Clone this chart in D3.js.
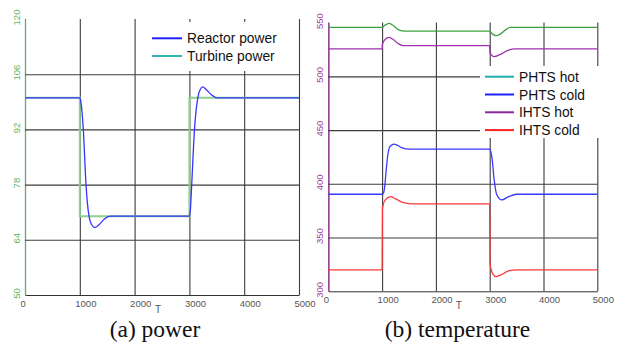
<!DOCTYPE html>
<html>
<head>
<meta charset="utf-8">
<script src="https://cdn.jsdelivr.net/npm/d3@7"></script>
<style>
  body { margin: 0; background: #fff; }
  svg { display: block; }
  .tick text { font-family: "Liberation Sans", Arial, sans-serif; font-size: 9.5px; }
  .legend text { font-family: "Liberation Sans", Arial, sans-serif; font-size: 13.8px; fill: #111; }
  .caption { font-family: "Liberation Serif", "Times New Roman", serif; font-size: 23.5px; fill: #111; }
</style>
</head>
<body>
<svg id="chart" width="618" height="342"></svg>
<script>
// ---- data ----
const xTicks = [0, 1000, 2000, 3000, 4000, 5000];
const powerTicks = [50, 64, 78, 92, 106, 120];
const tempTicks = [300, 350, 400, 450, 500, 550];

const reactorT = [0, 1000, 1020, 1064, 1113, 1168, 1200, 1277, 1350, 1450, 1550, 3000, 3020, 3042, 3093, 3153, 3200, 3242, 3300, 3400, 3500, 5000];
const reactorPower = [100, 100, 99, 92, 78, 70, 68.3, 67.1, 67.8, 69.3, 70, 70, 72, 78, 92, 100, 102.2, 102.8, 102.2, 100.8, 100, 100];
const turbineT = [0, 1000, 1000, 3000, 3000, 5000];
const turbinePower = [100, 100, 70, 70, 100, 100];

const phtsHotT = [0, 1000, 1050, 1128, 1200, 1300, 1425, 3000, 3050, 3117, 3200, 3300, 3377, 5000];
const phtsHot = [545.5, 545.5, 547.5, 549.3, 547.5, 543.5, 542, 542, 539.5, 537.8, 539.5, 543.5, 545.5, 545.5];
const phtsColdT = [0, 1000, 1030, 1054, 1080, 1110, 1150, 1227, 1350, 1500, 3000, 3040, 3080, 3130, 3223, 3350, 3500, 5000];
const phtsCold = [390.3, 390.3, 392, 400, 415, 428, 435, 437, 434, 432.2, 432.2, 425, 405, 390, 385, 388, 390.3, 390.3];
const ihtsHotT = [0, 1000, 1005, 1060, 1128, 1200, 1300, 1394, 3000, 3005, 3080, 3200, 3350, 3470, 5000];
const ihtsHot = [525.5, 525.5, 529.8, 534.5, 536.3, 534.5, 530.5, 528.5, 528.5, 522.4, 518.3, 520.5, 524.3, 525.5, 525.5];
const ihtsColdT = [0, 1000, 1005, 1060, 1160, 1250, 1400, 1580, 3000, 3005, 3060, 3117, 3200, 3350, 3500, 5000];
const ihtsCold = [320, 320, 377, 385, 388, 386, 382.5, 381.3, 381.3, 326, 316, 313.6, 315, 319, 320, 320];

const powerLegend = ['Reactor power', 'Turbine power'];
const powerLegendColors = ['#2020ff', '#30b8b0'];
const tempLegend = ['PHTS hot', 'PHTS cold', 'IHTS hot', 'IHTS cold'];
const tempLegendColors = ['#20b0b0', '#2020ff', '#8a2aa0', '#ff2020'];

const svg = d3.select('#chart');
const zip = (t, v) => t.map((d, i) => [d, v[i]]);

function panel(opt) {
  const x = d3.scaleLinear().domain([0, 5000]).range([opt.left, opt.right]);
  const y = d3.scaleLinear().domain(opt.yDomain).range([opt.bottom, opt.top]);
  const g = svg.append('g');

  // vertical grid + x labels
  const xa = g.append('g')
    .attr('transform', 'translate(0,' + opt.bottom + ')')
    .call(d3.axisBottom(x).tickValues(xTicks).tickSize(-(opt.bottom - opt.top)).tickSizeOuter(0).tickFormat(d3.format('d')));
  xa.select('.domain').attr('stroke', '#333');
  xa.selectAll('.tick line').attr('stroke', '#3c3c3c').attr('stroke-width', 1.1);
  xa.selectAll('.tick text')
    .attr('fill', '#555').attr('text-anchor', 'start')
    .attr('x', -5).attr('y', 5).attr('dy', '0.71em');

  // horizontal grid + rotated y labels
  const ya = g.append('g')
    .attr('transform', 'translate(' + opt.left + ',0)')
    .call(d3.axisLeft(y).tickValues(opt.yTicks).tickSize(-(opt.right - opt.left)).tickSizeOuter(0));
  ya.select('.domain').attr('stroke', opt.axisColor).attr('stroke-width', 1.2);
  ya.selectAll('.tick line').attr('stroke', '#3c3c3c').attr('stroke-width', 1.1)
    .filter(d => d === opt.yDomain[0] || d === opt.yDomain[1]).remove();
  ya.selectAll('.tick text')
    .attr('fill', opt.axisColor).attr('text-anchor', 'middle')
    .attr('x', null).attr('dy', null).attr('y', null)
    .attr('transform', 'translate(' + opt.labelShift + ',-2) rotate(-90)');

  g.append('text')
    .attr('x', (opt.left + opt.right) / 2 - 4).attr('y', opt.bottom + 18)
    .attr('text-anchor', 'middle').attr('fill', '#555')
    .style('font-family', '"Liberation Sans", Arial, sans-serif').style('font-size', '10px')
    .text('T');

  g.append('text').attr('class', 'caption')
    .attr('x', opt.captionX).attr('y', 337).attr('text-anchor', 'middle')
    .text(opt.caption);

  return { g, x, y };
}

// ---- (a) power ----
const a = panel({ left: 25, right: 299, top: 19, bottom: 295, yDomain: [50, 120], yTicks: powerTicks,
  axisColor: '#5cb85c', labelShift: -5.5, caption: '(a) power', captionX: 155 });
const lineA = d3.line().x(d => a.x(d[0])).y(d => a.y(d[1]));

a.g.append('path').datum(zip(turbineT, turbinePower))
  .attr('d', lineA).attr('fill', 'none').attr('stroke', '#8fd08f').attr('stroke-width', 2);
a.g.append('path').datum(zip(reactorT, reactorPower))
  .attr('d', lineA.curve(d3.curveMonotoneX)).attr('fill', 'none').attr('stroke', '#3535ff').attr('stroke-width', 1.3);

const legA = a.g.append('g').attr('class', 'legend');
legA.append('rect').attr('x', 145).attr('y', 22).attr('width', 151).attr('height', 49).attr('fill', '#fff');
powerLegend.forEach((name, i) => {
  const yy = 38.3 + i * 17.7;
  legA.append('line').attr('x1', 152).attr('x2', 182).attr('y1', yy).attr('y2', yy)
    .attr('stroke', powerLegendColors[i]).attr('stroke-width', 2);
  legA.append('text').attr('x', 187).attr('y', yy + 5).text(name);
});

// ---- (b) temperature ----
const b = panel({ left: 328.3, right: 597.3, top: 22.6, bottom: 291.3, yDomain: [300, 550], yTicks: tempTicks,
  axisColor: '#a040a0', labelShift: -5, caption: '(b) temperature', captionX: 457.5 });
const lineB = d3.line().x(d => b.x(d[0])).y(d => b.y(d[1])).curve(d3.curveMonotoneX);

const tempSeries = [
  [phtsHotT, phtsHot, '#40a040'],
  [ihtsHotT, ihtsHot, '#a030b0'],
  [phtsColdT, phtsCold, '#3838ff'],
  [ihtsColdT, ihtsCold, '#ff3838']
];
tempSeries.forEach(s => {
  b.g.append('path').datum(zip(s[0], s[1]))
    .attr('d', lineB).attr('fill', 'none').attr('stroke', s[2]).attr('stroke-width', 1.3);
});

const legB = b.g.append('g').attr('class', 'legend');
legB.append('rect').attr('x', 480).attr('y', 66).attr('width', 119).attr('height', 72).attr('fill', '#fff');
tempLegend.forEach((name, i) => {
  const yy = 76.7 + i * 17.8;
  legB.append('line').attr('x1', 485).attr('x2', 514).attr('y1', yy).attr('y2', yy)
    .attr('stroke', tempLegendColors[i]).attr('stroke-width', 2);
  legB.append('text').attr('x', 519).attr('y', yy + 5).text(name);
});
</script>
</body>
</html>
